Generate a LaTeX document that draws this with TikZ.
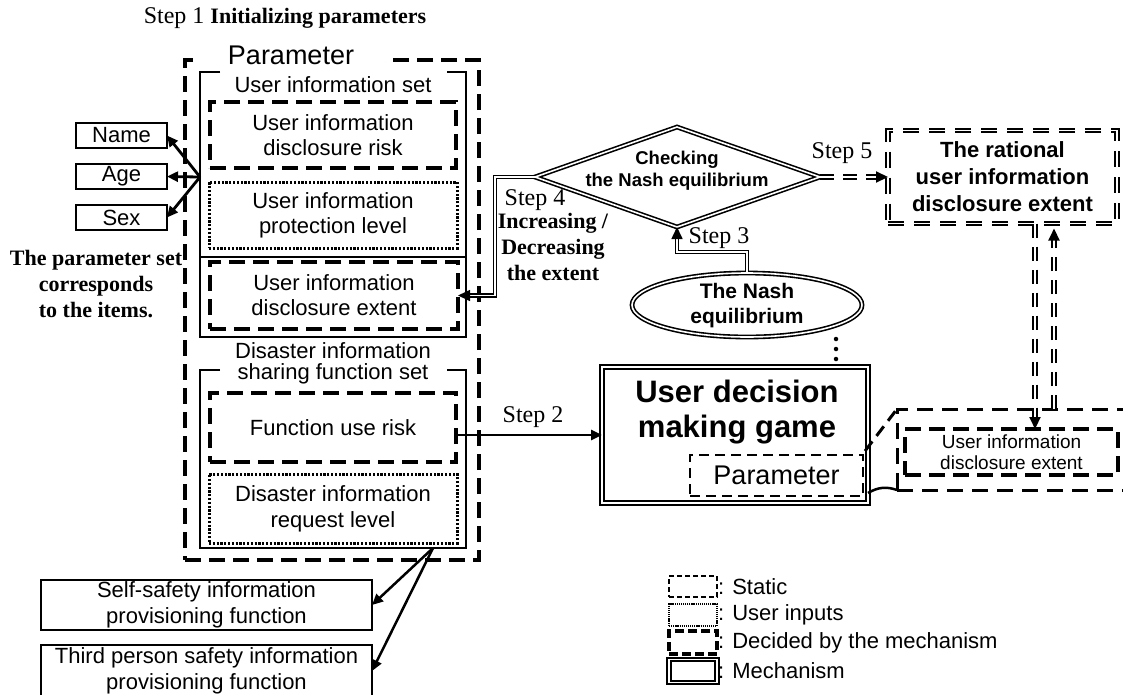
\documentclass[tikz,border=0pt]{standalone}
\usepackage{fontspec}
\setmainfont{Liberation Sans}
\newfontfamily\tms{Liberation Serif}
\usetikzlibrary{arrows.meta,shapes.geometric}
\newcommand{\setfs}[2]{\fontsize{#1}{#2}\selectfont}
\begin{document}
\begin{tikzpicture}[x=1pt,y=-1pt,
  nb/.style={inner sep=0pt,outer sep=0pt,align=center},
  sbox/.style={nb,draw,line width=1.6pt},
  dbox/.style={nb,draw,line width=3.4pt,dash pattern=on 16pt off 8pt},
  obox/.style={nb,draw,line width=3pt,dash pattern=on 2.2pt off 1.6pt},
  mbox/.style={nb,draw,double,line width=1.8pt,double distance=1.8pt},
  ddbox/.style={nb,draw,double,line width=2pt,double distance=1.6pt,dash pattern=on 16pt off 10pt},
  stxt/.style={nb,font=\setfs{22}{25}},
  steplbl/.style={nb,font=\tms\setfs{24}{26}},
  bser/.style={nb,font=\tms\bfseries\setfs{22}{26}},
  arr/.style={line width=2.8pt,-{Triangle[length=11pt,width=10pt]}},
  dblline/.style={double,line width=1.6pt,double distance=1.6pt},
  dblarr/.style={dblline,-{Triangle[length=12pt,width=11pt]}},
  ddarr/.style={double,line width=2pt,double distance=1.6pt,-{Triangle[length=12pt,width=11pt]},dash pattern=on 14pt off 9pt}]
\useasboundingbox (0,0) rectangle (1123,694);
\clip (0,0) rectangle (1123,694);

% Step 1 title
\node[nb] (s1) at (285,18) {{\tms\setfs{24}{26}Step 1}\hspace{6pt}{\tms\bfseries\setfs{22}{26}Initializing parameters}};

% outer Parameter box
\node[dbox,minimum width=294pt,minimum height=500pt] (par) at (332,310) {};
\node[nb,fill=white,minimum width=188pt,font=\setfs{27}{30}] (partitle) at (291,55) {Parameter};

% user information set
\node[nb,minimum width=266pt,minimum height=265pt] (uis) at (333,204.5) {};
\draw[line width=1.6pt] ([xshift=20pt]uis.north west) -- (uis.north west) -- (uis.south west) -- (uis.south east) -- (uis.north east) -- ([xshift=-19pt]uis.north east);
\coordinate (divy) at (0,257);
\draw[line width=1.6pt] (uis.west |- divy) -- (uis.east |- divy);
\node[stxt] (uistitle) at (333,85) {User information set};
\node[dbox,minimum width=246pt,minimum height=66pt,font=\setfs{22}{25}] (risk) at (333,135) {User information\\disclosure risk};
\node[obox,minimum width=248pt,minimum height=66pt,font=\setfs{22}{25}] (prot) at (333,215) {User information\\protection level};
\node[dbox,minimum width=248pt,minimum height=67pt,font=\setfs{22}{25}] (ext) at (334,295.5) {User information\\disclosure extent};

% disaster information sharing function set
\node[nb,minimum width=266pt,minimum height=178pt] (dis) at (333,459) {};
\draw[line width=1.6pt] ([xshift=20pt]dis.north west) -- (dis.north west) -- (dis.south west) -- (dis.south east) -- (dis.north east) -- ([xshift=-19pt]dis.north east);
\node[nb,font=\setfs{22}{21}] (distitle) at (333,363) {Disaster information\\sharing function set};
\node[dbox,minimum width=246pt,minimum height=69pt,font=\setfs{22}{25}] (fur) at (333,427.5) {Function use risk};
\node[obox,minimum width=248pt,minimum height=69pt,font=\setfs{22}{26}] (req) at (333,508.5) {Disaster information\\request level};

% Name / Age / Sex
\node[sbox,minimum width=91pt,minimum height=25pt,font=\setfs{22}{25}] (name) at (121.5,135.5) {Name};
\node[sbox,minimum width=91pt,minimum height=25pt,font=\setfs{22}{25}] (age) at (121.5,176.5) {Age};
\node[sbox,minimum width=91pt,minimum height=25pt,font=\setfs{22}{25}] (sex) at (121.5,217.5) {Sex};
\coordinate (fork) at (200,177);
\draw[arr] (fork) -- (name.east);
\draw[arr] (fork) -- (age.east);
\draw[arr] (fork) -- (sex.east);
\node[bser] (corr) at (96,284) {The parameter set\\corresponds\\to the items.};

% function boxes
\node[sbox,minimum width=331pt,minimum height=50pt,font=\setfs{22}{26}] (self) at (206.5,605) {Self-safety information\\provisioning function};
\node[sbox,minimum width=331pt,minimum height=52pt,font=\setfs{22}{26}] (third) at (206.5,671) {Third person safety information\\provisioning function};
\coordinate (split) at (433,548);
\draw[arr,line width=2.5pt] (split) -- (self.east);
\draw[arr,line width=2.5pt] (split) -- (third.east);

% diamond
\coordinate (dl) at (535,177);
\coordinate (dt) at (677,127);
\coordinate (dr) at (820,177);
\coordinate (db) at (677,227);
\draw[dblline,line join=miter] (dl) -- (dt) -- (dr) -- (db) -- cycle;
\node[nb,font=\bfseries\setfs{18.5}{22}] (chk) at (677,171) {Checking\\the Nash equilibrium};

% Nash ellipse
\node[ellipse,draw,dblline,minimum width=230pt,minimum height=64pt,inner sep=0pt] (nash) at (747,305) {};
\node[nb,font=\bfseries\setfs{21}{25}] (nashtxt) at (747,305.5) {The Nash\\equilibrium};

% game box
\node[mbox,minimum width=266pt,minimum height=136pt] (game) at (735,435) {};
\node[nb,font=\bfseries\setfs{31}{35}] (gametxt) at (737,412) {User decision\\making game};
\node[nb,draw,line width=2.6pt,dash pattern=on 10pt off 6pt,minimum width=173pt,minimum height=41pt,font=\setfs{27}{30}] (par2) at (776.5,475.5) {Parameter};

% dotted link
\coordinate (dot1) at (836,339);
\coordinate (dot2) at (836,362);
\draw[line width=4.5pt,line cap=round,dash pattern=on 0pt off 10pt] (dot1) -- (dot2);

% rational box
\node[ddbox,minimum width=229pt,minimum height=93pt,font=\bfseries\setfs{22}{27}] (rat) at (1002.5,177) {The rational\\user information\\disclosure extent};

% right boxes
\node[nb,draw,line width=3pt,dash pattern=on 16pt off 9pt,minimum width=240pt,minimum height=81pt] (ro) at (1017,449.5) {};
\node[dbox,minimum width=213pt,minimum height=46pt,font=\setfs{19}{21}] (ri) at (1011.5,452) {User information\\disclosure extent};
\coordinate (c1) at (865,451);
\coordinate (c2) at (868,493);
\draw[line width=3pt,dash pattern=on 12pt off 7pt] (c1) -- (ro.north west);
\draw[line width=2.5pt] (c2) to[bend left=25] (ro.south west);

% connectors
\draw[dblarr] (dl) -- (495,177) |- (ext.east);
\draw[dblarr] (nash.north) |- (677,252) -- (db);
\draw[ddarr] (dr) -- (rat.west);
\draw[arr] (fur.east |- game.west) -- (game.west);
\coordinate (vx1) at (1035,0);
\coordinate (vx2) at (1054,0);
\draw[ddarr] (rat.south -| vx1) -- (ri.north -| vx1);
\draw[ddarr] (ro.north -| vx2) -- ([yshift=-5pt]rat.south -| vx2);

% step labels
\node[steplbl] (st2) at (533,417) {Step 2};
\node[steplbl] (st3) at (719,238) {Step 3};
\node[steplbl] (st4) at (535,200) {Step 4};
\node[steplbl] (st5) at (842,153) {Step 5};
\node[bser] (incdec) at (553,247) {Increasing /\\Decreasing\\the extent};

% legend
\node[nb,draw,line width=1.6pt,dash pattern=on 5pt off 3pt,minimum width=48pt,minimum height=21pt] (lg1) at (693,586.5) {};
\node[nb,draw,line width=1.8pt,dash pattern=on 1.2pt off 0.9pt,minimum width=48pt,minimum height=22pt] (lg2) at (693,615) {};
\node[nb,draw,line width=3.2pt,dash pattern=on 9pt off 4pt,minimum width=48pt,minimum height=23pt] (lg3) at (693,642.5) {};
\node[mbox,minimum width=48pt,minimum height=23pt] (lg4) at (693,671) {};
\node[stxt,anchor=west] (lt1) at ([xshift=1pt]lg1.east) {: Static};
\node[stxt,anchor=west] (lt2) at ([xshift=1pt]lg2.east) {: User inputs};
\node[stxt,anchor=west] (lt3) at ([xshift=1pt]lg3.east) {: Decided by the mechanism};
\node[stxt,anchor=west] (lt4) at ([xshift=1pt]lg4.east) {: Mechanism};
\end{tikzpicture}
\end{document}
